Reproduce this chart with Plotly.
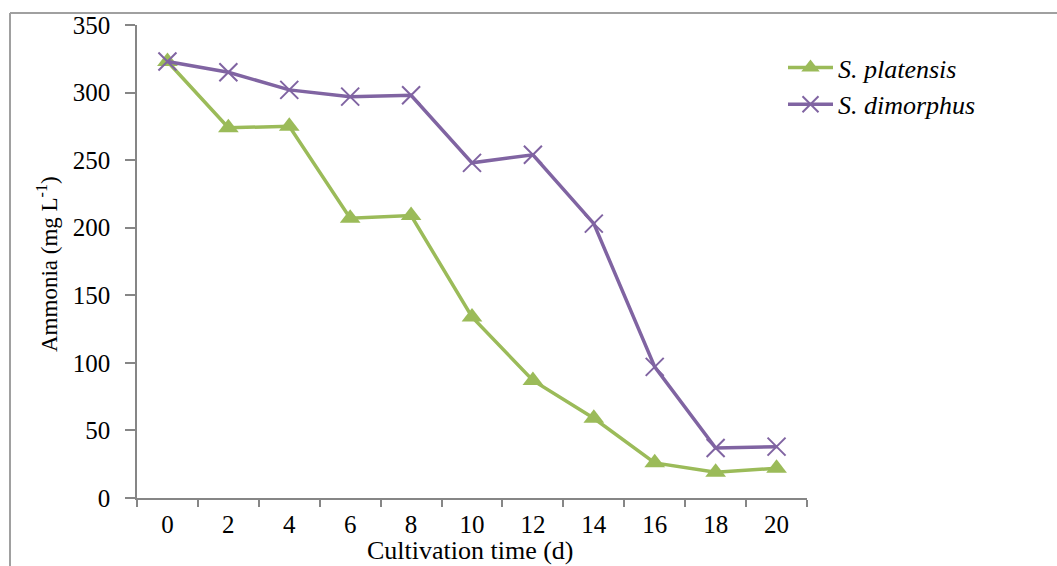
import plotly.graph_objects as go

days = ["0", "2", "4", "6", "8", "10", "12", "14", "16", "18", "20"]
platensis = [323, 274, 275, 207, 209, 134, 87, 59, 26, 19, 22]
dimorphus = [323, 315, 302, 297, 298, 248, 254, 203, 97, 37, 38]
y_ticks = [0, 50, 100, 150, 200, 250, 300, 350]

GREEN = "#9BBB59"
PURPLE = "#8064A2"
AXIS = "#868686"
FONT = "Liberation Serif"

W, H = 1057, 566
L, R, T, B = 137, 250, 25, 68
pw, ph = W - L - R, H - T - B

fig = go.Figure()
fig.add_trace(go.Scatter(
    x=days, y=platensis, mode="lines+markers", name="<i>S. platensis</i>",
    line=dict(color=GREEN, width=3.5),
    marker=dict(symbol="triangle-up", size=18, color=GREEN),
))
fig.add_trace(go.Scatter(
    x=days, y=dimorphus, mode="lines+markers", name="<i>S. dimorphus</i>",
    line=dict(color=PURPLE, width=3.5),
    marker=dict(symbol="x-thin", size=18, line=dict(color=PURPLE, width=2), color=PURPLE),
))

fig.update_layout(
    width=W, height=H,
    margin=dict(l=L, r=R, t=T, b=B),
    paper_bgcolor="white", plot_bgcolor="white",
    font=dict(family=FONT, size=25, color="black"),
    showlegend=True,
    legend=dict(
        x=(783 - L) / pw, y=(498 - 44) / ph, xanchor="left", yanchor="top",
        font=dict(family=FONT, size=26), bgcolor="rgba(0,0,0,0)",
        tracegroupgap=2, itemwidth=45,
    ),
    xaxis=dict(
        type="category", range=[-0.5, 10.5], showgrid=False, zeroline=False,
        showline=True, linecolor=AXIS, linewidth=1.5,
        ticks="outside", tickson="boundaries", ticklen=7, tickcolor=AXIS, tickwidth=1.5,
        tickfont=dict(family=FONT, size=25), ticklabelstandoff=3, fixedrange=True,
    ),
    yaxis=dict(
        range=[0, 350], tickvals=y_ticks, showgrid=False, zeroline=False,
        showline=True, linecolor=AXIS, linewidth=1.5,
        ticks="outside", ticklen=10, tickcolor=AXIS, tickwidth=1.5,
        tickfont=dict(family=FONT, size=25), ticklabelstandoff=10, fixedrange=True,
    ),
    annotations=[
        dict(text="Ammonia (mg L<sup>-1</sup>)", textangle=-90, showarrow=False,
             xref="paper", yref="paper", x=(47 - L) / pw, y=(498 - 264) / ph,
             xanchor="center", yanchor="middle", font=dict(family=FONT, size=23)),
        dict(text="Cultivation time (d)", showarrow=False,
             xref="paper", yref="paper", x=(470 - L) / pw, y=(498 - 550) / ph,
             xanchor="center", yanchor="middle", font=dict(family=FONT, size=26)),
    ],
    shapes=[
        dict(type="line", xref="paper", yref="paper",
             x0=(10 - L) / pw, x1=(W + 5 - L) / pw, y0=(498 - 13) / ph, y1=(498 - 13) / ph,
             line=dict(color="#A0A0A0", width=2)),
        dict(type="line", xref="paper", yref="paper",
             x0=(10 - L) / pw, x1=(10 - L) / pw, y0=(498 - 13) / ph, y1=(498 - H - 5) / ph,
             line=dict(color="#A0A0A0", width=2)),
    ],
)

fig.write_html("out.html")
